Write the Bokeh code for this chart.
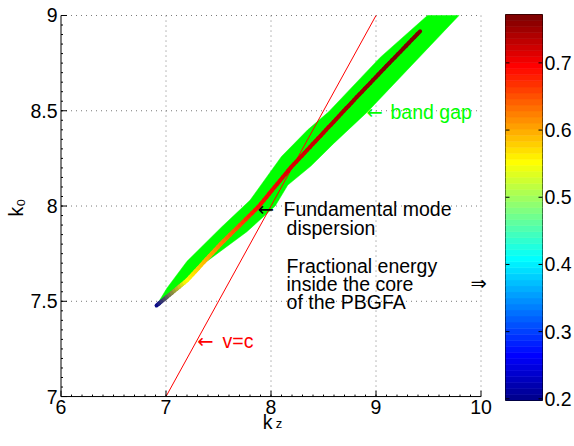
import numpy as np
from bokeh.plotting import figure
from bokeh.models import Range1d, FixedTicker, LinearAxis, Label
from bokeh.layouts import row
from bokeh.embed import file_html
from bokeh.resources import INLINE

# ---------------- data ----------------
# photonic band gap: left/upper edge (tip upward) and right/lower edge (top downward)
gap_upper_kz = [6.90, 7.01, 7.20, 7.53, 7.80, 8.10, 8.35, 8.55, 9.04, 9.49]
gap_upper_k0 = [7.47, 7.57, 7.71, 7.89, 8.03, 8.26, 8.40, 8.495, 8.78, 9.00]
gap_lower_kz = [9.79, 8.92, 8.60, 8.38, 8.16, 8.04, 7.77, 7.39, 7.07]
gap_lower_k0 = [9.00, 8.495, 8.33, 8.21, 8.11, 8.00, 7.865, 7.71, 7.555]

# fundamental mode dispersion and fractional energy inside the core
mode_kz = [6.91, 7.20, 7.52, 7.88, 8.19, 8.50, 8.79, 9.10, 9.42]
mode_k0 = [7.478, 7.61, 7.80, 7.996, 8.203, 8.385, 8.556, 8.735, 8.917]
mode_frac = [0.20, 0.55, 0.625, 0.69, 0.71, 0.73, 0.75, 0.765, 0.772]

# light line v = c
light_kz = [7.0, 9.0]
light_k0 = [7.0, 9.0]

x_ticks = [6, 7, 8, 9, 10]
y_ticks = [7, 7.5, 8, 8.5, 9]
cb_ticks = [0.2, 0.3, 0.4, 0.5, 0.6, 0.7]
cb_min, cb_max = 0.1975, 0.772

# annotations: (text, kz, k0, colour, font)
notes = [
    ("\u2190", 8.910, 8.492, "#00ff00", "DejaVu Sans"),
    ("band gap", 9.138, 8.492, "#00ff00", "Liberation Sans"),
    ("\u2190", 7.874, 7.982, "black", "DejaVu Sans"),
    ("Fundamental mode", 8.119, 7.982, "black", "Liberation Sans"),
    ("dispersion", 8.148, 7.887, "black", "Liberation Sans"),
    ("Fractional energy", 8.148, 7.687, "black", "Liberation Sans"),
    ("inside the core", 8.148, 7.592, "black", "Liberation Sans"),
    ("of the PBGFA", 8.148, 7.496, "black", "Liberation Sans"),
    ("\u21d2", 9.90, 7.592, "black", "DejaVu Sans"),
    ("\u2190", 7.297, 7.289, "red", "DejaVu Sans"),
    ("v=c", 7.538, 7.289, "red", "Liberation Sans"),
]
# x label "k" (position along kz); its subscript "z" is the axis label below it
xlabel_k_at = 7.967

FONT = "Liberation Sans"
FS = "19.5px"


def jet(m=64):
    n = int(np.ceil(m / 4))
    u = np.concatenate([np.arange(1, n + 1) / n, np.ones(n - 1), np.arange(n, 0, -1) / n])
    g = int(np.ceil(n / 2)) - (1 if m % 4 == 1 else 0) + np.arange(1, len(u) + 1)
    r = g + n
    b = g - n
    J = np.zeros((m, 3))
    for ch, idxs in ((0, r), (1, g), (2, b)):
        for i, val in zip(idxs, u):
            if 1 <= i <= m:
                J[i - 1, ch] = val
    return J


JET = jet(64)


def to_hex(c):
    return "#%02x%02x%02x" % tuple(int(round(v * 255)) for v in c)


def val_rgb(v):
    i = int(np.floor((v - cb_min) / (cb_max - cb_min) * 64))
    return JET[min(max(i, 0), 63)]


# ---------------- main plot geometry ----------------
W1, H = 505, 446
BL, BR, BT, BB = 57, 5, 13, 41
SX, SY = 105.0, 193.5          # pixels per unit
x0_px, y0_px = 60.5, 401.0     # where kz=6 / k0=7 sit on the canvas
xs = 6 - (x0_px - BL) / SX
xe = xs + (W1 - BL - BR) / SX
ys = 7 - ((H - BB) - y0_px) / SY
ye = ys + (H - BT - BB) / SY

p = figure(width=W1, height=H, x_range=Range1d(xs, xe), y_range=Range1d(ys, ye),
           output_backend="svg", toolbar_location=None,
           min_border_left=BL, min_border_right=BR, min_border_top=BT, min_border_bottom=BB)
p.outline_line_color = None
p.background_fill_color = "white"
p.border_fill_color = "white"
p.grid.visible = False

p.xaxis.ticker = FixedTicker(ticks=x_ticks)
p.yaxis.ticker = FixedTicker(ticks=y_ticks)
for ax in (p.xaxis[0], p.yaxis[0]):
    ax.major_tick_in = 0
    ax.major_tick_out = 0
    ax.minor_tick_line_color = None
    ax.major_tick_line_color = None
    ax.axis_line_color = None
    ax.major_label_text_font = FONT
    ax.major_label_text_font_size = FS
    ax.major_label_text_color = "black"
    ax.axis_label_text_font = FONT
    ax.axis_label_text_font_size = FS
    ax.axis_label_text_font_style = "normal"
    ax.axis_label_text_color = "black"
p.xaxis.major_label_standoff = -1
p.yaxis.major_label_standoff = 0
p.yaxis.axis_label = "k\u2080"
p.yaxis.axis_label_standoff = 0

kax = LinearAxis(ticker=FixedTicker(ticks=[xlabel_k_at]), major_label_overrides={xlabel_k_at: "k"},
                 major_tick_in=0, major_tick_out=0, axis_line_color=None,
                 minor_tick_line_color=None, major_tick_line_color=None,
                 major_label_text_font=FONT, major_label_text_font_size=FS,
                 major_label_text_color="black", major_label_standoff=-6,
                 axis_label="z", axis_label_text_font=FONT, axis_label_text_font_size="13px",
                 axis_label_text_font_style="normal", axis_label_text_color="black",
                 axis_label_standoff=-20)
p.add_layout(kax, "below")

# dotted grid (MATLAB style), limited to the axes box
gx = x_ticks[1:]
gy = y_ticks[1:]
p.segment(x0=gx, y0=[y_ticks[0]] * len(gx), x1=gx, y1=[y_ticks[-1]] * len(gx),
          line_color="#7a7a7a", line_dash="1 4", line_width=1)
p.segment(x0=[x_ticks[0]] * len(gy), y0=gy, x1=[x_ticks[-1]] * len(gy), y1=gy,
          line_color="#7a7a7a", line_dash="1 4", line_width=1)

# band gap
p.patch(gap_upper_kz + gap_lower_kz, gap_upper_k0 + gap_lower_k0,
        fill_color="#00ff00", line_color="#00ff00", line_width=0.5)

# light line
p.line(light_kz, light_k0, line_color="red", line_width=1)

# dispersion curve coloured by fractional energy (RGB-interpolated shading)
seg_x0, seg_y0, seg_x1, seg_y1, seg_c = [], [], [], [], []
N = 12
for i in range(len(mode_kz) - 1):
    ca, cb = val_rgb(mode_frac[i]), val_rgb(mode_frac[i + 1])
    for k in range(N):
        t0, t1 = k / N, (k + 1) / N
        seg_x0.append(mode_kz[i] + (mode_kz[i + 1] - mode_kz[i]) * t0)
        seg_x1.append(mode_kz[i] + (mode_kz[i + 1] - mode_kz[i]) * t1)
        seg_y0.append(mode_k0[i] + (mode_k0[i + 1] - mode_k0[i]) * t0)
        seg_y1.append(mode_k0[i] + (mode_k0[i + 1] - mode_k0[i]) * t1)
        tm = (t0 + t1) / 2
        seg_c.append(to_hex(ca + (cb - ca) * tm))
p.segment(x0=seg_x0, y0=seg_y0, x1=seg_x1, y1=seg_y1, line_color=seg_c,
          line_width=4, line_cap="round")

# axis lines with inward ticks
p.segment(x0=[x_ticks[0], x_ticks[0]], y0=[y_ticks[0], y_ticks[0]],
          x1=[x_ticks[-1], x_ticks[0]], y1=[y_ticks[0], y_ticks[-1]],
          line_color="black", line_width=1)
tx, ty = 6 / SX, 6 / SY
p.segment(x0=x_ticks, y0=[y_ticks[0]] * len(x_ticks), x1=x_ticks,
          y1=[y_ticks[0] + ty] * len(x_ticks), line_color="black", line_width=1)
p.segment(x0=[x_ticks[0]] * len(y_ticks), y0=y_ticks, x1=[x_ticks[0] + tx] * len(y_ticks),
          y1=y_ticks, line_color="black", line_width=1)
mx = [float(v) for v in np.arange(x_ticks[0] + 0.1, x_ticks[-1], 0.1)]
my = [float(v) for v in np.arange(y_ticks[0] + 0.05, y_ticks[-1], 0.05)]
p.segment(x0=mx, y0=[y_ticks[0]] * len(mx), x1=mx, y1=[y_ticks[0] + ty / 3] * len(mx),
          line_color="black", line_width=1)
p.segment(x0=[x_ticks[0]] * len(my), y0=my, x1=[x_ticks[0] + tx / 3] * len(my), y1=my,
          line_color="black", line_width=1)

for txt, x, y, col, fnt in notes:
    p.add_layout(Label(x=x, y=y, text=txt, text_color=col, text_font=fnt,
                       text_font_size=FS, text_align="left", text_baseline="alphabetic"))

# ---------------- colour bar ----------------
W2 = 574 - W1
p2 = figure(width=W2, height=H, x_range=Range1d(0, 1), y_range=Range1d(cb_min, cb_max),
            output_backend="svg", toolbar_location=None,
            min_border_left=0, min_border_right=32, min_border_top=14, min_border_bottom=46,
            x_axis_location=None, y_axis_location="right")
p2.grid.visible = False
p2.outline_line_color = "black"
p2.outline_line_width = 1
p2.border_fill_color = "white"

edges = np.linspace(cb_min, cb_max, 65)
pal = [to_hex(c) for c in JET]
p2.quad(left=0, right=1, bottom=edges[:-1], top=edges[1:], fill_color=pal,
        line_color=pal, line_width=0.6)

cbw = W2 - 0 - 32
tl = 4.0 / cbw
p2.segment(x0=[0] * len(cb_ticks), y0=cb_ticks, x1=[tl] * len(cb_ticks), y1=cb_ticks,
           line_color="black", line_width=1)
p2.segment(x0=[1 - tl] * len(cb_ticks), y0=cb_ticks, x1=[1] * len(cb_ticks), y1=cb_ticks,
           line_color="black", line_width=1)

ya = p2.yaxis[0]
ya.ticker = FixedTicker(ticks=cb_ticks)
ya.major_tick_in = 0
ya.major_tick_out = 0
ya.major_tick_line_color = None
ya.minor_tick_line_color = None
ya.axis_line_color = None
ya.major_label_text_font = FONT
ya.major_label_text_font_size = FS
ya.major_label_text_color = "black"
ya.major_label_standoff = 2

layout = row(p, p2)
open("out.html", "w").write(file_html(layout, INLINE))
